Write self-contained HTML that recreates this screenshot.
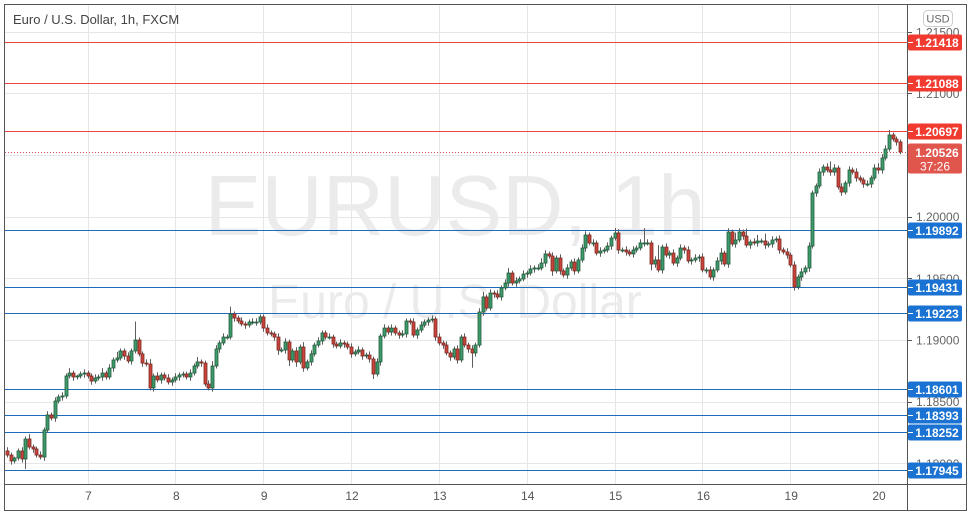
<!DOCTYPE html>
<html><head><meta charset="utf-8">
<style>
html,body{margin:0;padding:0;background:#fff;}
body{width:973px;height:515px;overflow:hidden;font-family:"Liberation Sans",sans-serif;}
svg text{font-family:"Liberation Sans",sans-serif;}
</style></head>
<body>
<svg id="chart" width="973" height="515" xmlns="http://www.w3.org/2000/svg">
  <rect x="0" y="0" width="973" height="515" fill="#fff"/>
  <g id="grid"></g>
  <g id="wm">
    <text x="455" y="235" font-size="85" fill="#ebebeb" text-anchor="middle">EURUSD, 1h</text>
    <text x="455" y="318" font-size="48" fill="#ebebeb" text-anchor="middle">Euro / U.S. Dollar</text>
  </g>
  <g id="levels"></g>
  <g id="candles"></g>
  <g id="axis"></g>
  <g id="taxis"></g>
  <line x1="4.5" y1="4" x2="4.5" y2="511" stroke="#555"/>
  <line x1="4" y1="4.5" x2="967" y2="4.5" stroke="#555"/>
  <line x1="966.5" y1="4" x2="966.5" y2="511" stroke="#555"/>
  <line x1="4" y1="510.5" x2="967" y2="510.5" stroke="#555"/>
  <line x1="907.5" y1="4" x2="907.5" y2="511" stroke="#555"/>
  <line x1="4" y1="484.5" x2="967" y2="484.5" stroke="#555"/>
  <text x="13" y="24" font-size="13" fill="#444">Euro / U.S. Dollar, 1h, FXCM</text>
  <rect x="923.5" y="10.5" width="29" height="16" rx="4" fill="#fff" stroke="#ccc"/>
  <text x="938" y="22.5" font-size="11" fill="#666" text-anchor="middle">USD</text>
</svg>
<script>
const closes = [1.18067,1.18019,1.18043,1.18100,1.18035,1.18197,1.18132,1.18116,1.18067,1.18051,
1.18270,1.18392,1.18367,1.18505,1.18538,1.18546,1.18708,1.18732,1.18700,1.18708,
1.18724,1.18732,1.18708,1.18667,1.18692,1.18700,1.18732,1.18700,1.18773,1.18838,
1.18854,1.18911,1.18870,1.18830,1.18911,1.19000,1.18887,1.18813,1.18805,1.18611,
1.18708,1.18676,1.18716,1.18692,1.18659,1.18676,1.18700,1.18716,1.18724,1.18700,
1.18732,1.18789,1.18822,1.18813,1.18643,1.18611,1.18789,1.18927,1.18976,1.19024,
1.19024,1.19211,1.19178,1.19154,1.19130,1.19121,1.19146,1.19146,
1.19146,1.19187,1.19097,1.19057,1.19049,1.19024,1.18919,1.18919,1.18984,1.18838,
1.18911,1.18822,1.18943,1.18773,1.18822,1.18887,1.18959,1.18992,1.19057,1.19024,
1.19024,1.18967,1.18951,1.18976,1.18967,1.18943,1.18887,1.18903,1.18919,1.18870,
1.18878,1.18846,1.18724,1.18822,1.19032,1.19097,1.19065,1.19097,1.19057,1.19040,
1.19049,1.19154,1.19146,1.19040,1.19081,1.19121,1.19146,1.19162,1.19170,1.19024,
1.18976,1.18959,1.18895,1.18862,1.18927,1.18838,1.19024,1.18959,1.18927,1.18895,
1.18959,1.19227,1.19349,1.19259,1.19381,1.19373,1.19349,1.19422,1.19462,1.19543,
1.19462,1.19479,1.19495,1.19535,1.19543,1.19576,1.19584,1.19584,1.19624,1.19698,
1.19681,1.19560,1.19665,1.19560,1.19527,1.19584,1.19632,1.19560,1.19649,1.19746,
1.19852,1.19787,1.19787,1.19705,1.19722,1.19730,1.19762,1.19827,1.19868,1.19730,
1.19730,1.19714,1.19698,1.19730,1.19746,1.19787,1.19787,1.19787,1.19616,1.19649,
1.19568,1.19754,1.19689,1.19705,1.19624,1.19665,1.19746,1.19730,1.19641,1.19649,
1.19665,1.19673,1.19568,1.19568,1.19511,1.19568,1.19641,1.19705,1.19616,1.19876,
1.19779,1.19811,1.19876,1.19843,1.19770,1.19795,1.19787,1.19803,1.19803,1.19770,
1.19779,1.19811,1.19819,1.19730,1.19714,1.19689,1.19608,1.19430,1.19511,1.19552,
1.19584,1.19762,1.20192,1.20249,1.20362,1.20403,1.20379,1.20362,1.20395,1.20241,
1.20200,1.20273,1.20379,1.20362,1.20314,1.20298,1.20265,1.20265,1.20314,1.20395,
1.20379,1.20476,1.20549,1.20663,1.20630,1.20606,1.20526];
const firstOpen = 1.18100;
const wickUpPips = [3,2,1,2,3,2,4,2,2,3, 2,3,2,3,2,3,2,4,2,1, 2,3,2,2,3,2,4,2,3,2, 5,2,2,3,2,15,2,2,3,4,
 2,3,2,2,3,2,3,2,2,2, 3,2,4,2,2,3,4,3,2,3, 2,6,2,2,3,2,2,3, 3,2,2,3,2,2,3,2,3,2, 2,3,2,4,2,3,2,3,2,2,
 3,2,2,3,2,2,3,2,3,2, 2,3,2,3,2,3,2,3,2,2, 3,2,2,3,2,3,2,2,3,2, 3,2,3,2,2,3,2,3,2,3, 2,3,4,2,3,2,3,2,3,4,
 2,3,2,3,2,3,2,3,4,3, 2,3,2,3,2,3,2,3,2,3, 3,2,3,2,3,2,3,2,4,3, 2,3,2,3,2,3,12,3,2,3, 12,2,3,2,3,2,3,2,3,2,
 3,2,3,2,3,2,3,4,2,3, 2,6,3,2,6,2,3,5,2,6, 2,3,2,3,2,3,2,3,2,3, 2,3,2,2,3,2,3,7,3,2, 3,2,3,2,3,2,2,3,2,3, 4,3,3,4,2,2];
const wickDnPips = [2,3,2,2,3,8,2,3,2,2, 3,2,2,3,2,3,2,2,3,2, 2,3,2,3,2,2,3,2,2,3, 2,2,3,2,3,2,2,3,2,2,
 3,2,3,2,2,3,2,3,2,2, 3,2,2,3,2,2,3,2,3,2, 2,2,3,2,2,3,2,2, 3,2,3,2,2,3,4,2,3,5, 2,4,2,3,2,3,2,2,3,2,
 2,3,2,2,3,2,3,2,2,3, 2,3,4,2,3,2,2,3,2,3, 2,3,2,2,3,2,2,3,2,3, 2,3,2,3,2,3,2,2,3,12, 3,2,3,2,2,3,2,3,2,3,
 2,3,2,2,3,2,3,2,2,3, 2,4,2,3,2,3,2,3,2,2, 3,2,3,2,3,2,2,3,2,3, 2,3,2,3,2,2,3,2,5,3, 2,3,2,3,2,3,2,3,2,3,
 2,3,2,3,2,3,2,3,2,3, 2,3,2,3,2,3,2,3,2,3, 2,3,2,3,2,3,2,3,2,3, 2,3,2,3,2,3,2,3,3,2, 3,2,3,2,3,2,3,2,3,2, 3,3,2,2,2,3];
const levelPrices = [1.21418,1.21088,1.20697,1.19892,1.19431,1.19223,1.18601,1.18393,1.18252,1.17945];
const levelKinds = ["resistance","resistance","resistance","support","support","support","support","support","support","support"];
const priceTicks = [1.215,1.21,1.205,1.2,1.195,1.19,1.185,1.18];
const priceTickLabels = ["1.21500","1.21000","1.20500","1.20000","1.19500","1.19000","1.18500","1.18000"];
const dayLabels = ["7","8","9","12","13","14","15","16","19","20"];
const dayStartBar = [22,46,70,94,118,142,166,190,214,238];
const currentPrice = 1.20526;
const countdown = "37:26";

const NS = "http://www.w3.org/2000/svg";
const PLOT_L = 5, PLOT_R = 907;
function y(p){ return 216.7 - (p - 1.2) * 12330; }
const X0 = 7, X1 = 900;
const step = (X1 - X0) / (closes.length - 1);
function x(i){ return X0 + i * step; }
function mk(tag, attrs, parent){
  const e = document.createElementNS(NS, tag);
  for (const k in attrs) e.setAttribute(k, attrs[k]);
  parent.appendChild(e);
  return e;
}
const grid = document.getElementById('grid');
priceTicks.forEach((p, i) => {
  const l = mk('line', {x1: PLOT_L, x2: PLOT_R, y1: Math.round(y(p)) + 0.5, y2: Math.round(y(p)) + 0.5, stroke: '#e6e6e6'}, grid);
  
  
});
dayStartBar.forEach((b, i) => {
  const xx = Math.round(x(b)) + 0.5;
  const l = mk('line', {x1: xx, x2: xx, y1: 5, y2: 484, stroke: '#e6e6e6'}, grid);
  
  
});
const levels = document.getElementById('levels');
const axis = document.getElementById('axis');
priceTicks.forEach((p, i) => {
  const yy = y(p);
  const t = mk('line', {x1: 907, x2: 912, y1: Math.round(yy) + 0.5, y2: Math.round(yy) + 0.5, stroke: '#555'}, axis);
  
  
  const tx = mk('text', {x: 916, y: yy + 4.5, 'font-size': 12, fill: '#666'}, axis);
  tx.textContent = priceTickLabels[i];
  
  
});
levelPrices.forEach((p, i) => {
  const col = levelKinds[i] === 'resistance' ? '#e8453c' : '#1e6bb8';
  const bg = levelKinds[i] === 'resistance' ? '#f23b30' : '#1a73d2';
  const yy = Math.round(y(p)) + 0.5;
  const l = mk('line', {x1: PLOT_L, x2: PLOT_R, y1: yy, y2: yy, stroke: col, 'stroke-width': 1}, levels);
  
  
  const r = mk('rect', {x: 908, y: yy - 8, width: 54, height: 16, rx: 2, fill: bg}, axis);
  
  
  const tk = mk('line', {x1: 908, x2: 913, y1: yy, y2: yy, stroke: '#fff'}, axis);
  
  
  const tx = mk('text', {x: 937, y: yy + 4.5, 'font-size': 12, 'font-weight': 'bold', fill: '#fff', 'text-anchor': 'middle'}, axis);
  tx.textContent = p.toFixed(5);
  
  
});
{
  const yy = Math.round(y(currentPrice)) + 0.5;
  const l = mk('line', {x1: PLOT_L, x2: PLOT_R, y1: yy, y2: yy, stroke: '#d9534f', 'stroke-dasharray': '1 2'}, levels);
  
  
  const r = mk('rect', {x: 908, y: yy - 9, width: 54, height: 30, rx: 2, fill: '#e0564c'}, axis);
  
  
  const tx = mk('text', {x: 937, y: yy + 4.5, 'font-size': 12, 'font-weight': 'bold', fill: '#fff', 'text-anchor': 'middle'}, axis);
  tx.textContent = currentPrice.toFixed(5);
  
  
  const cd = mk('text', {x: 935, y: yy + 18, 'font-size': 12, fill: '#fff', 'text-anchor': 'middle'}, axis);
  cd.textContent = countdown;
  
  
}
const cg = document.getElementById('candles');
closes.forEach((c, i) => {
  const o = i === 0 ? firstOpen : closes[i - 1];
  const up = c >= o;
  const hi = Math.max(o, c) + (wickUpPips[i] || 2) * 0.0001;
  const lo = Math.min(o, c) - (wickDnPips[i] || 2) * 0.0001;
  const cx = Math.round(x(i)) + 0.5;
  const w = mk('line', {x1: cx, x2: cx, y1: y(hi), y2: y(lo), stroke: '#5d5d5d'}, cg);
  
  
  const top = y(Math.max(o, c)), bot = y(Math.min(o, c));
  const b = mk('rect', {x: cx - 1.5, y: top, width: 3, height: Math.max(1, bot - top),
    fill: up ? '#3f9a6a' : '#c9453b', stroke: up ? '#225c3c' : '#7b2a24', 'stroke-width': 0.8}, cg);
  
  
});
const ta = document.getElementById('taxis');
dayLabels.forEach((d, i) => {
  const t = mk('text', {x: x(dayStartBar[i]) + 1, y: 500, 'font-size': 12, fill: '#555', 'text-anchor': 'middle'}, ta);
  t.textContent = d;
  
  
});
</script>
</body></html>
